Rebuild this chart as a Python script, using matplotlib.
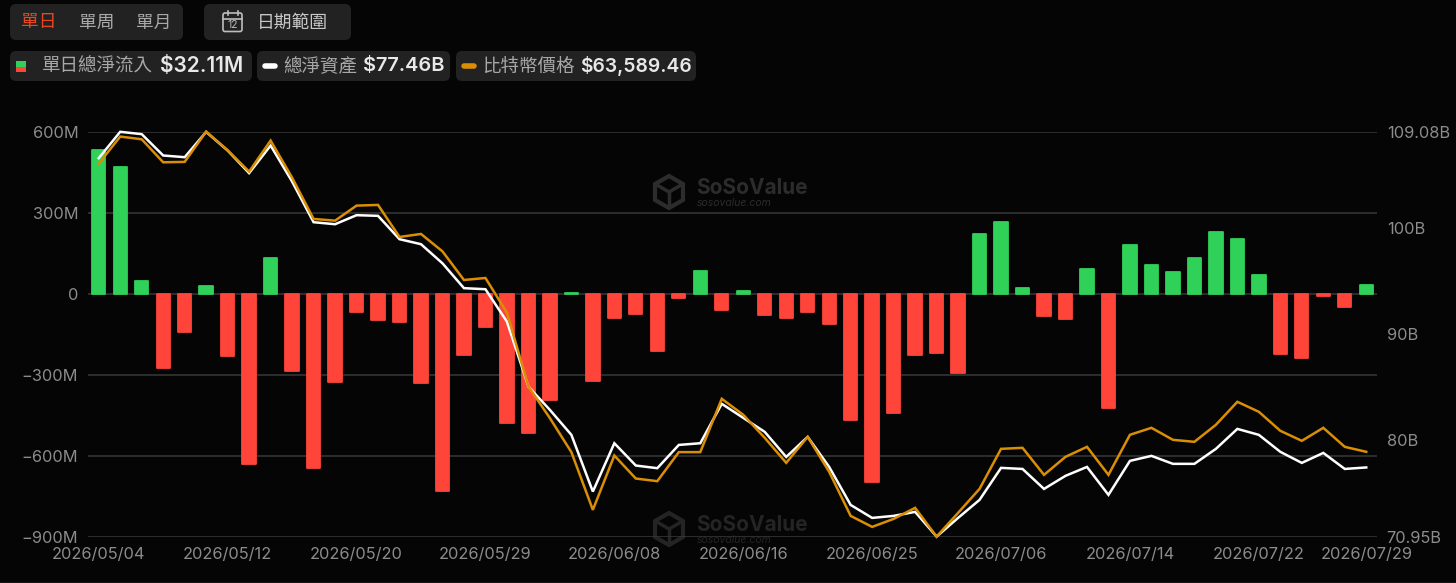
import matplotlib
matplotlib.use("Agg")
import matplotlib.pyplot as plt
from matplotlib.patches import FancyBboxPatch, Polygon, Rectangle

plt.rcParams["font.family"] = ["Inter", "Noto Sans CJK TC", "DejaVu Sans"]

# Daily net flow, in millions of dollars
flows = [532, 468, 47, -274, -143, 27, -230, -632, 132, -288,
         -646, -328, -68, -99, -104, -331, -731, -226, -122, -481,
         -517, -394, 4, -323, -89, -75, -211, -16, 85, -62,
         10, -80, -89, -67, -112, -467, -696, -442, -228, -221,
         -294, 222, 267, 22, -83, -94, 90, -422, 181, 107,
         79, 133, 227, 204, 69, -223, -238, -9, -48, 32]

# Total net assets, in billions of dollars
assets = [106.58, 109.06, 108.84, 106.83, 106.67, 109.05, 107.30, 105.17, 107.77, 104.38,
          100.55, 100.36, 101.21, 101.15, 98.95, 98.48, 96.68, 94.34, 94.24, 91.19,
          85.07, 82.88, 80.53, 75.19, 79.74, 77.64, 77.39, 79.58, 79.74, 83.45,
          82.13, 80.81, 78.45, 80.34, 77.51, 73.93, 72.71, 72.90, 73.28, 70.95,
          72.71, 74.41, 77.42, 77.32, 75.44, 76.67, 77.51, 74.88, 78.08, 78.55,
          77.80, 77.80, 79.21, 81.09, 80.53, 78.93, 77.89, 78.83, 77.32, 77.46]

# Bitcoin price, in dollars
btc = [82590, 84372, 84194, 82677, 82703, 84700, 83468, 82063, 84108, 81667,
       78942, 78830, 79820, 79866, 77754, 77952, 76804, 74917, 75049, 72760,
       67897, 65812, 63569, 59762, 63344, 61827, 61655, 63569, 63569, 67085,
       66030, 64512, 62863, 64578, 62269, 59366, 58640, 59168, 59894, 58000,
       59564, 61147, 63786, 63852, 62071, 63259, 63918, 62071, 64710, 65172,
       64380, 64248, 65370, 66887, 66228, 64974, 64314, 65172, 63918, 63589]

date_pos = [0, 6, 12, 18, 24, 30, 36, 42, 48, 54, 59]
date_labels = ["2026/05/04", "2026/05/12", "2026/05/20", "2026/05/29", "2026/06/08", "2026/06/16",
               "2026/06/25", "2026/07/06", "2026/07/14", "2026/07/22", "2026/07/29"]
flow_ticks = [600, 300, 0, -300, -600, -900]
flow_labels = ["600M", "300M", "0", "\u2212300M", "\u2212600M", "\u2212900M"]
asset_ticks = [109.08, 100, 90, 80, 70.95]
asset_labels = ["109.08B", "100B", "90B", "80B", "70.95B"]

BG = "#050505"
GREEN = "#30D158"
RED = "#FF453A"
ORANGE = "#D98E04"
GRID = "#383838"
TICK = "#8C8C8C"
BOX = "#222222"

W, H = 1456, 583
fig = plt.figure(figsize=(W / 100, H / 100), dpi=100, facecolor=BG)

# Watermarks sit behind the chart
wm = fig.add_axes([0, 0, 1, 1], zorder=-1)
wm.set_xlim(0, W)
wm.set_ylim(H, 0)
wm.axis("off")


def watermark(x, y, color):
    # hexagon logo
    hexagon = [(x, y - 16), (x + 14, y - 8), (x + 14, y + 8), (x, y + 16), (x - 14, y + 8), (x - 14, y - 8)]
    wm.add_patch(Polygon(hexagon, closed=True, fc="none", ec=color, linewidth=3))
    wm.plot([x - 12, x, x + 12], [y - 7, y, y - 7], color=color, linewidth=2.5)
    wm.plot([x, x], [y, y + 14], color=color, linewidth=2.5)
    wm.text(x + 27, y - 4, "SoSoValue", color=color, fontsize=15, fontweight="bold", va="center")
    wm.text(x + 28, y + 11, "sosovalue.com", color=color, fontsize=7.5, style="italic", va="center")


watermark(669, 192, "#2C2C2C")
watermark(669, 529, "#242424")

# Chart area
ax = fig.add_axes([88 / W, 1 - 536.6 / H, (1377 - 88) / W, 405 / H])
ax.set_facecolor("none")
ax.set_xlim(-0.5, 59.5)
ax.set_ylim(-900, 600)
for s in ax.spines.values():
    s.set_visible(False)
ax.set_yticks(flow_ticks, flow_labels)
ax.set_xticks(date_pos, date_labels)
ax.tick_params(axis="both", length=0, colors=TICK, labelsize=11.8)
ax.tick_params(axis="y", pad=7)
ax.tick_params(axis="x", pad=7.5)
ax.grid(axis="y", color=GRID, linewidth=1.1)
ax.set_axisbelow(True)

bar_colors = [GREEN if v >= 0 else RED for v in flows]
ax.bar(range(len(flows)), flows, width=0.62, color=bar_colors, edgecolor=bar_colors,
       linewidth=1.3, joinstyle="round", zorder=2)

# Right axis for net assets
ax2 = ax.twinx()
ax2.set_facecolor("none")
ax2.set_ylim(70.95, 109.08)
for s in ax2.spines.values():
    s.set_visible(False)
ax2.set_yticks(asset_ticks, asset_labels)
ax2.tick_params(axis="y", length=0, colors=TICK, labelsize=11.8, pad=7)
ax2.plot(range(len(assets)), assets, color="white", linewidth=1.8, clip_on=False,
         solid_joinstyle="miter", zorder=3)

# Bitcoin has its own hidden scale
ax3 = ax.twinx()
ax3.set_facecolor("none")
ax3.set_ylim(58000, 84700)
ax3.axis("off")
ax3.plot(range(len(btc)), btc, color=ORANGE, linewidth=1.8, clip_on=False,
         solid_joinstyle="miter", zorder=4)

# Overlay in pixel coordinates for the header
ui = fig.add_axes([0, 0, 1, 1], zorder=10)
ui.set_xlim(0, W)
ui.set_ylim(H, 0)
ui.axis("off")
ui.patch.set_alpha(0)


def box(x0, y0, x1, y1, color=BOX):
    ui.add_patch(FancyBboxPatch((x0 + 6, y0 + 6), x1 - x0 - 12, y1 - y0 - 12,
                                boxstyle="round,pad=6,rounding_size=6", fc=color, ec="none"))


def label(x, y, s, color="#A8A8A8", size=13.3, weight="normal", ha="left"):
    ui.text(x, y, s, color=color, fontsize=size, fontweight=weight, ha=ha, va="center")


box(10, 4, 183, 40)
label(21, 23, "單日", color="#E8481F", size=12.8)
label(79, 23, "單周", size=12.8)
label(136, 23, "單月", size=12.8)

box(204, 4, 351, 40)
ui.add_patch(FancyBboxPatch((223, 13), 19, 18.5, boxstyle="round,pad=0,rounding_size=2",
                            fc="none", ec="#BDBDBD", linewidth=1.2))
ui.plot([223, 242], [18.5, 18.5], color="#BDBDBD", linewidth=1.2)
ui.plot([227.5, 227.5], [11, 15], color="#BDBDBD", linewidth=1.2)
ui.plot([237.5, 237.5], [11, 15], color="#BDBDBD", linewidth=1.2)
label(232.5, 25.5, "12", color="#BDBDBD", size=7.5, ha="center")
label(257, 23, "日期範圍", color="#C8C8C8", size=12.8, weight="medium")

box(10, 51, 252, 81)
ui.add_patch(Rectangle((15.5, 61), 10.5, 5.5, fc=GREEN, ec="none"))
ui.add_patch(Rectangle((15.5, 66.5), 10.5, 5.5, fc=RED, ec="none"))
label(42, 67, "單日總淨流入")
label(160, 66, "$32.11M", color="#E8E8E8", size=15, weight="semibold")

box(257, 51, 450, 81)
ui.plot([265, 275], [66, 66], color="white", linewidth=4, solid_capstyle="round")
label(283, 67, "總淨資產")
label(363, 66, "$77.46B", color="#E8E8E8", size=14.4, weight="semibold")

box(456, 51, 696, 81)
ui.plot([464, 474], [66, 66], color=ORANGE, linewidth=4, solid_capstyle="round")
label(482, 67, "比特幣價格")
label(580, 66, "$63,589.46", color="#E8E8E8", size=13.9, weight="semibold")

# thin line at the bottom edge of the screenshot
ui.plot([0, W], [582.5, 582.5], color="#555555", linewidth=1)

fig.savefig("out.png", dpi=100, facecolor=BG)
